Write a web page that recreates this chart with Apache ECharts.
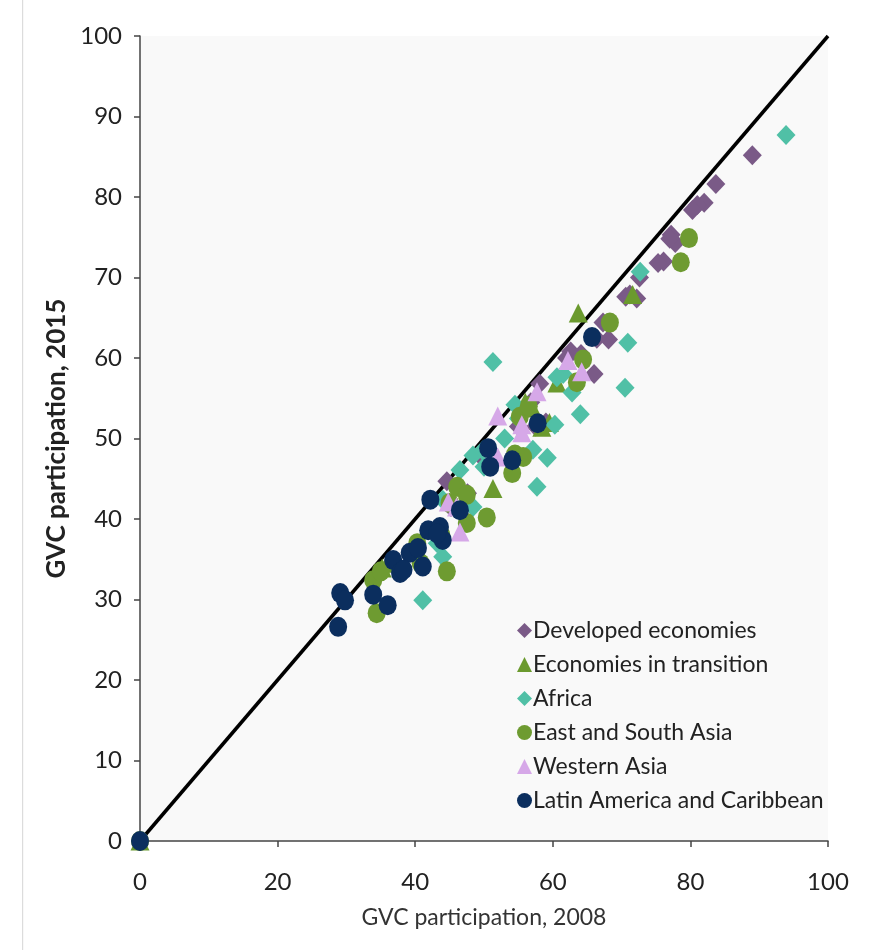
<!DOCTYPE html>
<html>
<head>
<meta charset="utf-8">
<script src="https://cdn.jsdelivr.net/npm/echarts@6/dist/echarts.min.js"></script>
<style>
  html, body { margin: 0; padding: 0; background: #fff; }
  #chart_container { width: 890px; height: 950px; }
</style>
</head>
<body>
<div id="chart_container"></div>
<script>
"use strict";

// GVC participation: [2008, 2015] per economy
const developed = [
    [89.0, 85.2], [83.7, 81.6], [82.0, 79.3], [81.0, 79.0], [80.3, 78.4],
    [77.2, 75.3], [77.8, 74.3], [77.0, 74.8], [76.1, 72.0], [75.3, 71.8],
    [72.6, 70.0], [72.2, 67.4], [70.6, 67.6], [71.2, 67.9], [68.1, 62.3],
    [67.3, 64.4], [66.4, 62.4], [66.0, 58.0], [64.1, 60.5], [62.6, 60.8],
    [62.0, 60.0], [58.1, 56.8], [56.8, 54.5], [59.0, 52.0], [57.5, 51.5],
    [44.6, 44.7], [47.6, 43.2], [45.2, 41.5], [55.0, 51.5], [49.3, 48.0]
];
const transition = [
    [63.7, 65.6], [71.6, 67.9], [60.6, 56.9], [58.4, 51.4], [59.5, 52.0],
    [51.3, 43.8], [35.2, 33.9], [57.0, 53.8], [56.0, 54.5], [36.0, 34.5],
    [46.5, 44.0], [0, 0]
];
const africa = [
    [93.9, 87.7], [72.7, 70.7], [70.9, 61.9], [70.5, 56.3], [64.0, 53.0],
    [51.3, 59.5], [62.8, 55.7], [60.6, 57.6], [61.5, 58.0], [60.3, 51.7],
    [57.7, 44.0], [54.5, 54.2], [59.2, 47.6], [57.1, 48.6], [55.0, 52.5],
    [46.5, 46.1], [48.4, 47.9], [49.8, 48.5], [44.0, 42.4], [48.4, 41.5],
    [44.0, 35.3], [41.1, 29.9], [43.2, 37.0], [50.0, 46.5], [53.0, 50.0]
];
const eastSouthAsia = [
    [79.8, 74.9], [78.6, 71.9], [68.3, 64.4], [64.4, 59.8], [63.5, 57.0],
    [55.2, 52.7], [54.5, 48.0], [54.1, 45.7], [55.7, 47.7], [56.5, 54.0],
    [50.4, 40.2], [44.6, 33.5], [47.5, 39.5], [46.1, 44.0], [47.5, 43.0],
    [34.4, 28.3], [40.3, 37.0], [33.9, 32.4], [35.0, 33.5], [40.8, 34.5],
    [43.8, 38.0], [45.0, 42.0], [0, 0]
];
const westernAsia = [
    [52.0, 52.8], [57.7, 55.8], [55.5, 51.7], [55.5, 50.7], [62.2, 59.7],
    [64.2, 58.3], [52.0, 47.7], [46.5, 38.4], [44.8, 42.1], [46.0, 41.5]
];
const latinAmerica = [
    [65.7, 62.6], [57.8, 51.9], [50.6, 48.8], [50.9, 46.5], [54.1, 47.3],
    [42.2, 42.4], [46.5, 41.1], [41.9, 38.6], [43.6, 39.0], [44.0, 37.4],
    [43.2, 38.2], [39.2, 35.8], [40.4, 36.4], [41.1, 34.1], [36.8, 34.9],
    [37.8, 33.3], [38.3, 33.7], [29.1, 30.8], [29.8, 29.9], [33.9, 30.6],
    [36.0, 29.3], [28.8, 26.6], [0, 0]
];
const diagonal = [[0, 0], [100, 100]];

const xTitle = 'GVC participation, 2008';
const yTitle = 'GVC participation, 2015';

const fontFam = 'Lato, "Open Sans", sans-serif';

let scatter = (name, data, symbol, size, color) => ({
    name: name,
    type: 'scatter',
    data: data,
    symbol: symbol,
    symbolSize: size,
    itemStyle: { color: color, opacity: 1 },
    emphasis: { disabled: true }
});

const optEchart = {
    animation: false,
    textStyle: { fontFamily: fontFam },
    graphic: [{
        type: 'rect',
        shape: { x: 22, y: 0, width: 1.2, height: 950 },
        style: { fill: '#dcdcdc' },
        silent: true
    }],
    grid: {
        left: 140, right: 62, top: 36, bottom: 109,
        show: true, backgroundColor: '#f9f9f9', borderWidth: 0
    },
    legend: {
        orient: 'vertical',
        left: 512, top: 614,
        itemWidth: 15, itemHeight: 15,
        itemGap: 11,
        data: ['Developed economies', 'Economies in transition', 'Africa',
               'East and South Asia', 'Western Asia', 'Latin America and Caribbean'],
        textStyle: { fontSize: 23, color: '#222', fontFamily: fontFam, padding: [0, 0, 0, -4] },
        selectedMode: false
    },
    xAxis: {
        type: 'value', min: 0, max: 100, interval: 20,
        name: xTitle, nameLocation: 'middle', nameGap: 65,
        nameTextStyle: { fontSize: 23, color: '#333' },
        axisLine: { show: true, onZero: false, lineStyle: { color: '#444', width: 1.5 } },
        axisTick: { show: true, length: 6, lineStyle: { color: '#444', width: 1.5 } },
        axisLabel: { fontSize: 24, color: '#222', margin: 29 },
        splitLine: { show: false }
    },
    yAxis: {
        type: 'value', min: 0, max: 100, interval: 10,
        name: yTitle, nameLocation: 'middle', nameGap: 60,
        nameTextStyle: { fontSize: 26, fontWeight: 'bold', color: '#222' },
        axisLine: { show: true, onZero: false, lineStyle: { color: '#444', width: 1.5 } },
        axisTick: { show: true, length: 6, lineStyle: { color: '#444', width: 1.5 } },
        axisLabel: { fontSize: 24, color: '#222', margin: 18 },
        splitLine: { show: false }
    },
    series: [
        {
            type: 'line', data: diagonal, symbol: 'none', silent: true,
            lineStyle: { color: '#000', width: 3.5 }, z: 1
        },
        scatter('Developed economies', developed, 'diamond', [19, 20], '#7a5a87'),
        scatter('Economies in transition', transition, 'triangle', [19, 19], '#6b9a2e'),
        scatter('Africa', africa, 'diamond', [19, 20], '#50c0a6'),
        scatter('East and South Asia', eastSouthAsia, 'circle', [18, 20], '#6e9b31'),
        scatter('Western Asia', westernAsia, 'triangle', [19, 19], '#d6a8e8'),
        scatter('Latin America and Caribbean', latinAmerica, 'circle', [18, 20], '#0b2e5e')
    ]
};

let pageLoaded = () => {
    let chartDom = document.getElementById('chart_container');
    let myChart = echarts.init(chartDom, null, { renderer: 'canvas' });
    optEchart && myChart.setOption(optEchart);
};

window.addEventListener('load', pageLoaded, false);
</script>
</body>
</html>
